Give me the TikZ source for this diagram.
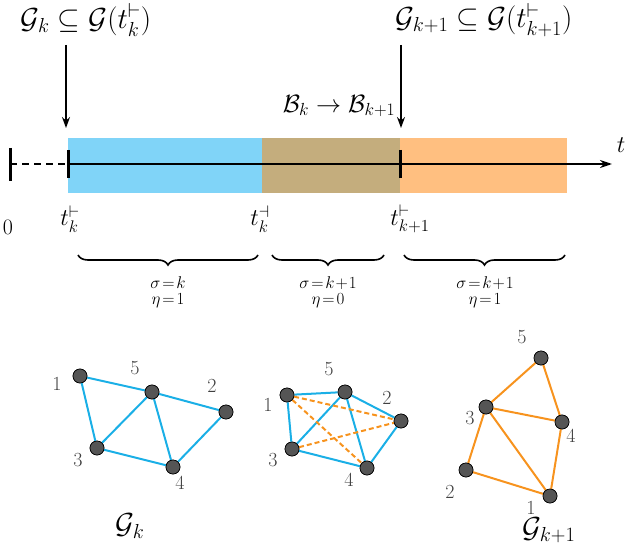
\RequirePackage{fix-cm}
\documentclass[tikz,border=0pt]{standalone}
\usepackage{amssymb}
\usetikzlibrary{decorations.pathreplacing,arrows.meta}
\definecolor{cblue}{HTML}{80D4F8}
\definecolor{cbrown}{HTML}{C4AD7D}
\definecolor{corange}{HTML}{FFBF80}
\definecolor{eblue}{HTML}{1AAFE6}
\definecolor{eorange}{HTML}{F7931E}
\definecolor{ngray}{HTML}{555555}
\tikzset{
 vtx/.style={circle,fill=ngray,draw=black,line width=0.6pt,minimum size=14pt,inner sep=0pt},
 lbl/.style={font=\fontsize{20}{20}\selectfont,text=black!75},
 be/.style={draw=eblue,line width=2pt},
 oe/.style={draw=eorange,line width=2pt,dashed,dash pattern=on 5pt off 3pt},
 se/.style={draw=eorange,line width=2pt},
 big/.style={font=\fontsize{29}{29}\selectfont},
 sm/.style={font=\fontsize{17}{17}\selectfont,align=center,inner sep=0pt},
 brc/.style={decorate,decoration={brace,mirror,amplitude=10pt},line width=1.6pt},
}
\begin{document}
\begin{tikzpicture}[x=1pt,y=-1pt]
\useasboundingbox (0,0) rectangle (626,556);
\fill[cblue] (68,138) rectangle (262,193);
\fill[cbrown] (262,138) rectangle (400,193);
\fill[corange] (400,138) rectangle (567,193);
\coordinate (a0) at (10,164); \coordinate (a1) at (68,164); \coordinate (a2) at (400,164); \coordinate (aend) at (612,164);
\draw[line width=1.8pt,dashed,dash pattern=on 7pt off 5pt] (a0) -- (a1);
\draw[line width=1.8pt,-{Stealth[length=12pt,width=8pt]}] (a1) -- (aend);
\draw[line width=3pt] (10,148) -- (10,181);
\draw[line width=3pt] (68,150) -- (68,178);
\draw[line width=3pt] (400,150) -- (400,178);
\node[font=\fontsize{24}{24}\selectfont] at (621,145) {$t$};
\node[big] (l1) at (86,20) {$\mathcal{G}_k \subseteq \mathcal{G}(t_k^{\vdash})$};
\node[big] (l2) at (484,20) {$\mathcal{G}_{k+1} \subseteq \mathcal{G}(t_{k+1}^{\vdash})$};
\coordinate (d1) at (66,128); \coordinate (d2) at (401,128);
\draw[line width=1.5pt,-{Stealth[length=11pt,width=8pt]}] (66,45) -- (d1);
\draw[line width=1.5pt,-{Stealth[length=11pt,width=8pt]}] (401,45) -- (d2);
\node[font=\fontsize{25}{25}\selectfont] at (339,106) {$\mathcal{B}_k \rightarrow \mathcal{B}_{k+1}$};
\node[font=\fontsize{22}{22}\selectfont] at (8,227) {$0$};
\node[font=\fontsize{24}{24}\selectfont] at (70,219) {$t_k^{\vdash}$};
\node[font=\fontsize{24}{24}\selectfont] at (260,219) {$t_k^{\dashv}$};
\node[font=\fontsize{24}{24}\selectfont] at (410,219) {$t_{k+1}^{\vdash}$};
\draw[brc] (78,255) -- (258,255);
\draw[brc] (272,255) -- (384,255);
\draw[brc] (404,255) -- (565,255);
\node[sm] at (168,292) {$\sigma\!=\!k$\\[-1pt]$\eta\!=\!1$};
\node[sm] at (328,292) {$\sigma\!=\!k\!+\!1$\\[-1pt]$\eta\!=\!0$};
\node[sm] at (485,292) {$\sigma\!=\!k\!+\!1$\\[-1pt]$\eta\!=\!1$};
% graph 1
\node[vtx] (a1n) at (80,376) {}; \node[vtx] (a5) at (152,392) {}; \node[vtx] (a2n) at (226,412) {};
\node[vtx] (a3) at (97,448) {}; \node[vtx] (a4) at (173,467) {};
\draw[be] (a1n)--(a5) (a1n)--(a3) (a5)--(a2n) (a5)--(a3) (a5)--(a4) (a3)--(a4) (a4)--(a2n);
\node[vtx] at (a1n) {}; \node[vtx] at (a5) {}; \node[vtx] at (a2n) {}; \node[vtx] at (a3) {}; \node[vtx] at (a4) {};
\node[lbl] at (57,384) {1}; \node[lbl] at (135,368) {5}; \node[lbl] at (212,386) {2};
\node[lbl] at (78,460) {3}; \node[lbl] at (180,483) {4};
% graph 2
\node[vtx] (b1) at (287,395) {}; \node[vtx] (b5) at (345,392) {}; \node[vtx] (b2) at (401,421) {};
\node[vtx] (b3) at (292,449) {}; \node[vtx] (b4) at (367,468) {};
\draw[be] (b1)--(b5) (b5)--(b2) (b1)--(b3) (b3)--(b5) (b5)--(b4) (b3)--(b4) (b4)--(b2);
\draw[oe] (b1)--(b2) (b1)--(b4) (b3)--(b2);
\node[vtx] at (b1) {}; \node[vtx] at (b5) {}; \node[vtx] at (b2) {}; \node[vtx] at (b3) {}; \node[vtx] at (b4) {};
\node[lbl] at (268,405) {1}; \node[lbl] at (329,369) {5}; \node[lbl] at (387,398) {2};
\node[lbl] at (273,460) {3}; \node[lbl] at (349,480) {4};
% graph 3
\node[vtx] (c5) at (541,358) {}; \node[vtx] (c3) at (486,407) {}; \node[vtx] (c4) at (562,422) {};
\node[vtx] (c2) at (466,470) {}; \node[vtx] (c1) at (550,496) {};
\draw[se] (c5)--(c3) (c5)--(c4) (c3)--(c4) (c3)--(c2) (c3)--(c1) (c4)--(c1) (c2)--(c1);
\node[vtx] at (c5) {}; \node[vtx] at (c3) {}; \node[vtx] at (c4) {}; \node[vtx] at (c2) {}; \node[vtx] at (c1) {};
\node[lbl] at (522,337) {5}; \node[lbl] at (470,418) {3}; \node[lbl] at (571,436) {4};
\node[lbl] at (450,492) {2}; \node[lbl] at (531,508) {1};
\node[big] at (130,526) {$\mathcal{G}_k$};
\node[big] at (549,530) {$\mathcal{G}_{k+1}$};
\end{tikzpicture}
\end{document}
